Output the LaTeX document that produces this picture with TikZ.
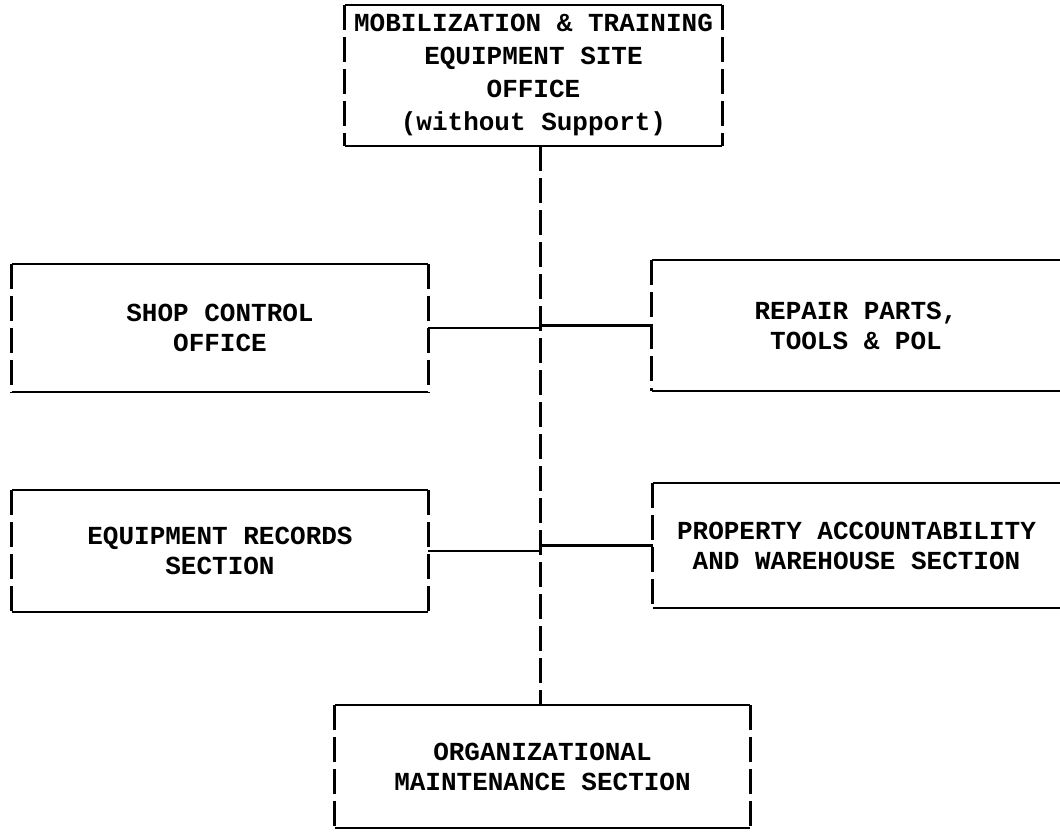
\documentclass[tikz,border=0pt]{standalone}
\usepackage{fontspec}
\newfontfamily\typewriter{Liberation Mono}
\begin{document}
\begin{tikzpicture}[x=1pt,y=-1pt,
  label/.style={inner sep=0pt, align=center,
    font=\typewriter\bfseries\fontsize{26}{30}\selectfont},
  unit/.style={label, minimum width=#1},
  hline/.style={line width=2.4pt},
  vline/.style={line width=3pt, dash pattern=on 25pt off 7pt},
]
\useasboundingbox (0,0) rectangle (1060,832);

% organisation units
\node[label, minimum width=377pt, minimum height=141pt,
      font=\typewriter\bfseries\fontsize{26}{33}\selectfont]
  (top) at (533.5,75.5) {MOBILIZATION \& TRAINING\\EQUIPMENT SITE\\OFFICE\\(without Support)};
\node[label, minimum width=416pt, minimum height=128pt] (shop) at (220,328)
  {SHOP CONTROL\\OFFICE};
\node[label, minimum width=408pt, minimum height=131pt] (repair) at (856,325.5)
  {REPAIR PARTS,\\TOOLS \& POL};
\node[label, minimum width=416pt, minimum height=122pt] (records) at (220,551)
  {EQUIPMENT RECORDS\\SECTION};
\node[label, minimum width=407pt, minimum height=125pt] (property) at (856.5,545.5)
  {PROPERTY ACCOUNTABILITY\\AND WAREHOUSE SECTION};
\node[label, minimum width=415pt, minimum height=123pt] (org) at (542.5,766.5)
  {ORGANIZATIONAL\\MAINTENANCE SECTION};

% closed boxes: ruled top and bottom, broken sides
\foreach \n in {top,shop,records,org} {
  \draw[hline] (\n.north west) -- (\n.north east);
  \draw[hline] (\n.south west) -- (\n.south east);
  \draw[vline] (\n.north west) -- (\n.south west);
  \draw[vline] (\n.north east) -- (\n.south east);
}
% boxes running off the right edge
\foreach \n in {repair,property} {
  \draw[hline] (\n.north west) -- (\n.north east);
  \draw[hline] (\n.south west) -- (\n.south east);
  \draw[vline] (\n.north west) -- (\n.south west);
}

% central spine and branches
\coordinate (spine) at (540,0);
\draw[vline] (top.south -| spine) -- (org.north -| spine);
\draw[hline] (shop.east) -- (shop.east -| spine);
\draw[hline] (repair.west) -- (repair.west -| spine);
\draw[hline] (records.east) -- (records.east -| spine);
\draw[hline] (property.west) -- (property.west -| spine);
\end{tikzpicture}
\end{document}
